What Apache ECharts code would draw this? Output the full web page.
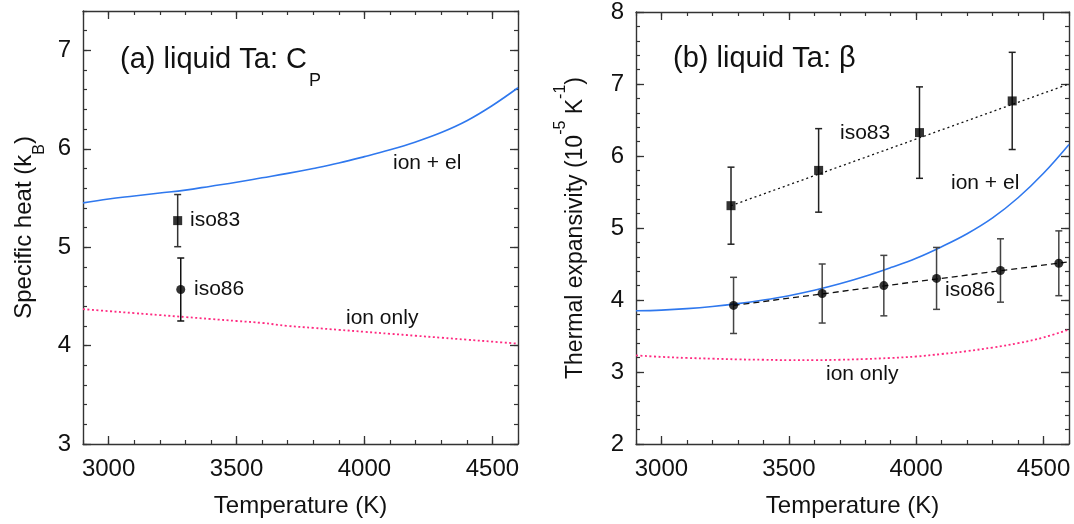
<!DOCTYPE html>
<html><head><meta charset="utf-8">
<script src="https://cdn.jsdelivr.net/npm/echarts@6/dist/echarts.min.js"></script>
<style>html,body{margin:0;padding:0;background:#fff}#c{width:1074px;height:524px}</style>
</head><body><div id="c"></div>
<script>
// ---------- data ----------
const tempGrid = [2900,3000,3100,3200,3300,3400,3500,3600,3700,3800,3900,4000,4100,4200,4300,4400,4500,4600];
// panel (a) specific heat (k_B)
const cpIonEl   = [5.45,5.49,5.52,5.55,5.58,5.62,5.66,5.705,5.75,5.80,5.855,5.92,5.99,6.07,6.165,6.285,6.44,6.62];
const cpIonOnly = [4.37,4.35,4.33,4.31,4.29,4.27,4.25,4.23,4.20,4.18,4.16,4.14,4.12,4.10,4.08,4.06,4.04,4.02];
const cpIso83T = [3270], cpIso83Val = [5.27], cpIso83Err = [0.265];
const cpIso86T = [3282], cpIso86Val = [4.57], cpIso86Err = [0.32];
// panel (b) thermal expansivity (1e-5 / K)
const betaIonEl   = [3.85,3.86,3.88,3.91,3.95,4.00,4.06,4.135,4.225,4.33,4.45,4.58,4.74,4.92,5.14,5.42,5.76,6.16];
const betaIonOnly = [3.23,3.21,3.195,3.185,3.175,3.17,3.165,3.165,3.17,3.18,3.195,3.215,3.25,3.29,3.34,3.40,3.48,3.59];
const betaIso83T = [3273,3617,4013,4377];
const betaIso83Val = [5.31,5.80,6.325,6.765];
const betaIso83Err = [0.535,0.58,0.635,0.675];
const betaIso83FitT = [3273,4600], betaIso83FitVal = [5.31,7.00];
const betaIso86T = [3283,3631,3873,4080,4331,4560];
const betaIso86Val = [3.925,4.09,4.20,4.30,4.41,4.51];
const betaIso86Err = [0.39,0.41,0.42,0.43,0.44,0.45];
const betaIso86FitT = [3283,4600], betaIso86FitVal = [3.925,4.53];
// ticks
const xMajorTicks = [3000,3500,4000,4500];
const cpMajorTicks = [3,4,5,6,7];
const betaMajorTicks = [2,3,4,5,6,7,8];

// ---------- styling ----------
const FONT = "'Liberation Sans', Arial, sans-serif";
const AX = '#333';
const BLUE = '#2f78ee';
const PINK = '#ff2a80';
const zip = (a,b) => a.map((v,i)=>[v,b[i]]);

function makeX(g, min, max, majors, name) {
  const base = {type:'value', gridIndex:g, min, max, splitLine:{show:false}};
  const line = {show:true, onZero:false, lineStyle:{color:AX, width:1.4}};
  return [
    {...base, position:'bottom', interval:100, axisLine:line,
      axisTick:{show:true, inside:true, length:4, lineStyle:{color:AX, width:1.2}}, axisLabel:{show:false}},
    {...base, position:'bottom', axisLine:{show:false, onZero:false},
      axisTick:{show:true, inside:true, length:8, customValues:majors, lineStyle:{color:AX, width:1.3}},
      axisLabel:{show:true, customValues:majors, margin:13, fontSize:24, fontFamily:FONT, color:'#111', formatter:v=>String(v)},
      name:name, nameLocation:'middle', nameGap:50, nameTextStyle:{fontSize:24, fontFamily:FONT, color:'#111'}},
    {...base, position:'top', interval:100, axisLine:line,
      axisTick:{show:true, inside:true, length:4, lineStyle:{color:AX, width:1.2}}, axisLabel:{show:false}},
    {...base, position:'top', axisLine:{show:false, onZero:false},
      axisTick:{show:true, inside:true, length:8, customValues:majors, lineStyle:{color:AX, width:1.3}}, axisLabel:{show:false}}
  ];
}
function makeY(g, min, max, majors, name, gap, rich) {
  const base = {type:'value', gridIndex:g, min, max, splitLine:{show:false}};
  const line = {show:true, onZero:false, lineStyle:{color:AX, width:1.4}};
  return [
    {...base, position:'left', interval:0.2, axisLine:line,
      axisTick:{show:true, inside:true, length:4, lineStyle:{color:AX, width:1.2}}, axisLabel:{show:false}},
    {...base, position:'left', axisLine:{show:false, onZero:false},
      axisTick:{show:true, inside:true, length:8, customValues:majors, lineStyle:{color:AX, width:1.3}},
      axisLabel:{show:true, customValues:majors, margin:12, fontSize:24, fontFamily:FONT, color:'#111', formatter:v=>String(v)},
      name:name, nameLocation:'middle', nameRotate:90, nameGap:gap, nameTextStyle:{rich:rich}},
    {...base, position:'right', interval:0.2, axisLine:line,
      axisTick:{show:true, inside:true, length:4, lineStyle:{color:AX, width:1.2}}, axisLabel:{show:false}},
    {...base, position:'right', axisLine:{show:false, onZero:false},
      axisTick:{show:true, inside:true, length:8, customValues:majors, lineStyle:{color:AX, width:1.3}}, axisLabel:{show:false}}
  ];
}

function errorBars(xi, yi, T, V, E, color) {
  return {
    type:'custom', xAxisIndex:xi, yAxisIndex:yi, z:4, silent:true,
    data: T.map((t,i)=>[t, V[i]-E[i], V[i]+E[i]]),
    encode:{x:0, y:[1,2]},
    renderItem(params, api) {
      const x = api.value(0);
      const lo = api.coord([x, api.value(1)]);
      const hi = api.coord([x, api.value(2)]);
      const w = 3.5;
      const st = {stroke:color, lineWidth:1.5};
      return {type:'group', children:[
        {type:'line', shape:{x1:lo[0], y1:lo[1], x2:hi[0], y2:hi[1]}, style:st},
        {type:'line', shape:{x1:lo[0]-w, y1:lo[1], x2:lo[0]+w, y2:lo[1]}, style:st},
        {type:'line', shape:{x1:hi[0]-w, y1:hi[1], x2:hi[0]+w, y2:hi[1]}, style:st}
      ]};
    }
  };
}
function curve(xi, yi, data, color, type, width) {
  return {type:'line', xAxisIndex:xi, yAxisIndex:yi, data, showSymbol:false, symbol:'none', smooth:0.4,
    lineStyle:{color, width, type}, z:3, silent:true};
}
function pts(xi, yi, data, symbol, size) {
  return {type:'scatter', xAxisIndex:xi, yAxisIndex:yi, data, symbol, symbolSize:size,
    itemStyle:{color:'#000'}, z:6, silent:true};
}

const richA = {
  m:{fontSize:24, lineHeight:25, verticalAlign:'top', fontFamily:FONT, color:'#111'},
  s:{fontSize:16, lineHeight:16, padding:[20,0,0,0], verticalAlign:'top', fontFamily:FONT, color:'#111'}
};
const richB = {
  m:{fontSize:23, lineHeight:24, padding:[12,0,0,0], verticalAlign:'top', fontFamily:FONT, color:'#111'},
  p:{fontSize:16, lineHeight:16, padding:[1,0,0,0], verticalAlign:'top', fontFamily:FONT, color:'#111'}
};

function label(x, y, text, size) {
  return {type:'text', x, y, style:{text, fontSize:size, fontFamily:FONT, fill:'#111', verticalAlign:'middle', align:'left'}, z:10};
}

const option = {
  animation:false,
  backgroundColor:'#fff',
  grid:[
    {left:83, top:11, width:435, height:433, containLabel:false},
    {left:636, top:12, width:433, height:432, containLabel:false}
  ],
  xAxis:[...makeX(0,2900,4600,xMajorTicks,'Temperature (K)'), ...makeX(1,2900,4600,xMajorTicks,'Temperature (K)')],
  yAxis:[...makeY(0,3,7.4,cpMajorTicks,'{m|Specific heat (k}{s|B}{m|)}',46,richA),
         ...makeY(1,2,8,betaMajorTicks,'{m|Thermal expansivity (10}{p|-5}{m| K}{p|-1}{m|)}',60,richB)],
  series:[
    curve(0,0,zip(tempGrid,cpIonEl),BLUE,'solid',1.6),
    curve(0,0,zip(tempGrid,cpIonOnly),PINK,[2,2.5],1.8),
    errorBars(0,0,cpIso83T,cpIso83Val,cpIso83Err,'#333'),
    errorBars(0,0,cpIso86T,cpIso86Val,cpIso86Err,'#111'),
    pts(0,0,zip(cpIso83T,cpIso83Val),'rect',9),
    pts(0,0,zip(cpIso86T,cpIso86Val),'circle',9),

    curve(4,4,zip(tempGrid,betaIonEl),BLUE,'solid',1.6),
    curve(4,4,zip(tempGrid,betaIonOnly),PINK,[2,2.5],1.8),
    {type:'line', xAxisIndex:4, yAxisIndex:4, data:zip(betaIso83FitT,betaIso83FitVal), symbol:'none',
      lineStyle:{color:'#111', width:1.3, type:[2,3]}, z:3, silent:true},
    {type:'line', xAxisIndex:4, yAxisIndex:4, data:zip(betaIso86FitT,betaIso86FitVal), symbol:'none',
      lineStyle:{color:'#111', width:1.3, type:[6,4]}, z:3, silent:true},
    errorBars(4,4,betaIso83T,betaIso83Val,betaIso83Err,'#222'),
    errorBars(4,4,betaIso86T,betaIso86Val,betaIso86Err,'#444'),
    pts(4,4,zip(betaIso83T,betaIso83Val),'rect',9),
    pts(4,4,zip(betaIso86T,betaIso86Val),'circle',9)
  ],
  graphic:[
    label(120,60,'(a) liquid Ta: C',29),
    label(309,81,'P',18),
    label(393,163,'ion + el',21),
    label(346,318,'ion only',21),
    label(190,220,'iso83',21),
    label(194,289,'iso86',21),
    label(673,59,'(b) liquid Ta: \u03B2',29),
    label(840,133,'iso83',21),
    label(951,183,'ion + el',21),
    label(945,290,'iso86',21),
    label(826,374,'ion only',21)
  ]
};
echarts.init(document.getElementById('c'), null, {renderer:'canvas'}).setOption(option);
</script></body></html>
